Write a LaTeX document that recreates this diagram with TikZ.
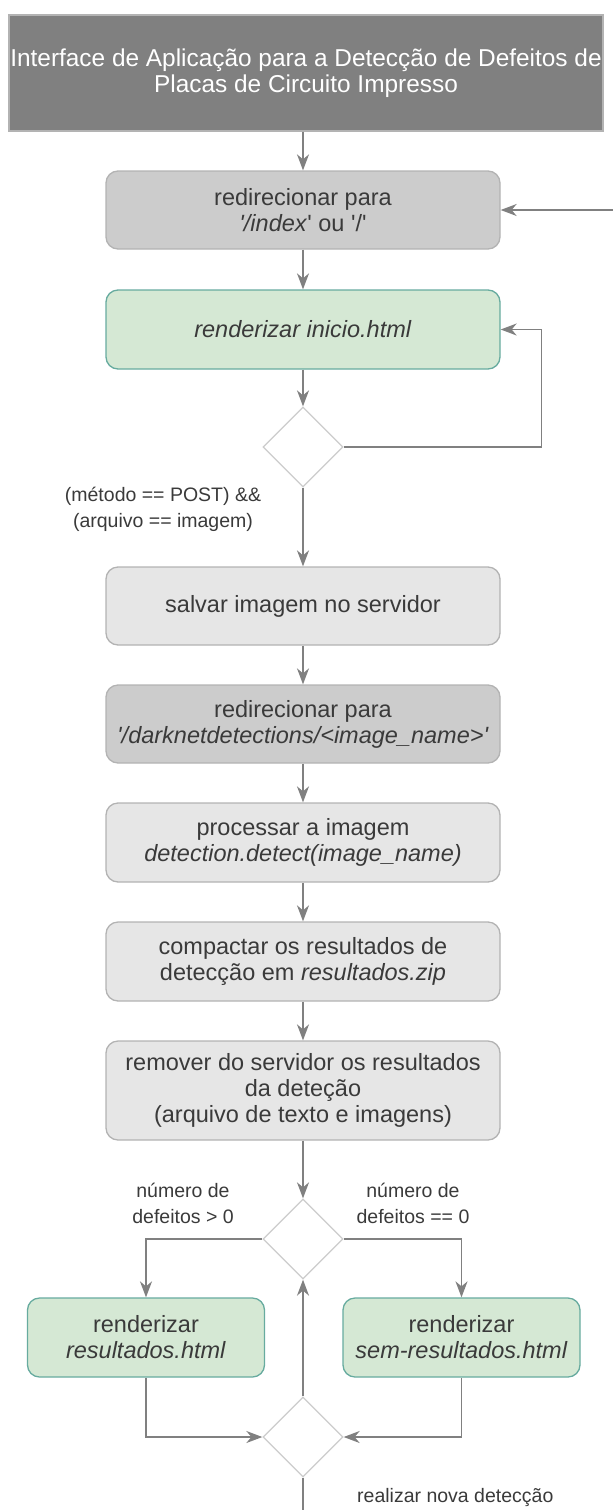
\documentclass[tikz,border=0pt]{standalone}
\usepackage{fontspec}
\setmainfont{Liberation Sans}[Ligatures=TeXOff]
\usetikzlibrary{arrows.meta,shapes.geometric}
\definecolor{txt}{HTML}{3A3A3A}
\definecolor{titlefill}{HTML}{808080}
\definecolor{bordergray}{HTML}{B3B3B3}
\definecolor{midfill}{HTML}{CCCCCC}
\definecolor{lightfill}{HTML}{E6E6E6}
\definecolor{greenfill}{HTML}{D5E8D4}
\definecolor{greenborder}{HTML}{67AB9F}
\definecolor{arrowgray}{HTML}{808080}
\definecolor{diamondborder}{HTML}{CCCCCC}
\begin{document}
\begin{tikzpicture}[x=1pt,y=-1pt,
  box/.style={rounded corners=12pt, draw=bordergray, line width=1.3pt, minimum width=394pt, minimum height=78pt, align=center, text=txt, font=\fontsize{23.5}{26}\selectfont, inner sep=0pt},
  midbox/.style={box, fill=midfill},
  lightbox/.style={box, fill=lightfill},
  greenbox/.style={box, fill=greenfill, draw=greenborder},
  titlebox/.style={draw=bordergray, fill=titlefill, line width=1.3pt, minimum width=594pt, minimum height=116pt, align=center, text=white, font=\fontsize{24.4}{26}\selectfont, inner sep=0pt},
  decision/.style={diamond, aspect=1, draw=diamondborder, fill=white, line width=1.3pt, minimum width=80pt, minimum height=80pt, inner sep=0pt},
  lbl/.style={align=center, text=txt, font=\fontsize{19.5}{26}\selectfont, inner sep=0pt},
  arr/.style={draw=arrowgray, line width=1.6pt, -{Stealth[length=16pt, width=12pt, inset=5pt]}},
  plain/.style={draw=arrowgray, line width=1.6pt}
]
\useasboundingbox (0,0) rectangle (613,1510);

\node[titlebox] (t) at (306,73) {Interface de Aplicação para a Detecção de Defeitos de\\Placas de Circuito Impresso};
\node[midbox] (b2) at (303,210) {redirecionar para\\\textit{'/index}' ou '/'};
\node[greenbox, minimum height=79pt] (b3) at (303,329.5) {\textit{renderizar inicio.html}};
\node[decision] (d1) at (303,447) {};
\node[lightbox] (b4) at (303,606) {salvar imagem no servidor};
\node[midbox] (b5) at (303,724) {redirecionar para\\\textit{'/darknetdetections/<image\_name>'}};
\node[lightbox, minimum height=79pt] (b6) at (303,842.5) {processar a imagem\\\textit{detection.detect(image\_name)}};
\node[lightbox, minimum height=79pt] (b7) at (303,961.5) {compactar os resultados de\\detecção em \textit{resultados.zip}};
\node[lightbox, minimum height=99pt] (b8) at (303,1090.5) {remover do servidor os resultados\\da deteção\\(arquivo de texto e imagens)};
\node[decision] (d2) at (303,1239) {};
\node[greenbox, minimum width=237pt, minimum height=79pt] (b9) at (146,1337.5) {renderizar\\\textit{resultados.html}};
\node[greenbox, minimum width=237pt, minimum height=79pt] (b10) at (461.5,1337.5) {renderizar\\\textit{sem-resultados.html}};
\node[decision] (d3) at (303,1437) {};

\node[lbl] (l1) at (163,509) {(método == POST) \&\&\\(arquivo == imagem)};
\node[lbl] (l2) at (183,1203) {número de\\defeitos > 0};
\node[lbl] (l3) at (413,1203) {número de\\defeitos == 0};
\node[lbl, anchor=west] (l4) at (357,1497) {realizar nova detecção};

\coordinate (rin) at (613,210);
\coordinate (bot) at (303,1510);

\draw[arr] (b2 |- t.south) -- (b2.north);
\draw[arr] (rin) -- (b2.east);
\draw[arr] (b2) -- (b3);
\draw[arr] (b3) -- (d1);
\draw[arr] (d1.east) -- ++(198,0) |- (b3.east);
\draw[arr] (d1) -- (b4);
\draw[arr] (b4) -- (b5);
\draw[arr] (b5) -- (b6);
\draw[arr] (b6) -- (b7);
\draw[arr] (b7) -- (b8);
\draw[arr] (b8) -- (d2);
\draw[arr] (d2.west) -| (b9.north);
\draw[arr] (d2.east) -| (b10.north);
\draw[arr] (b9.south) |- (d3.west);
\draw[arr] (b10.south) |- (d3.east);
\draw[arr] (d3.north) -- (d2.south);
\draw[plain] (d3.south) -- (bot);
\end{tikzpicture}
\end{document}
